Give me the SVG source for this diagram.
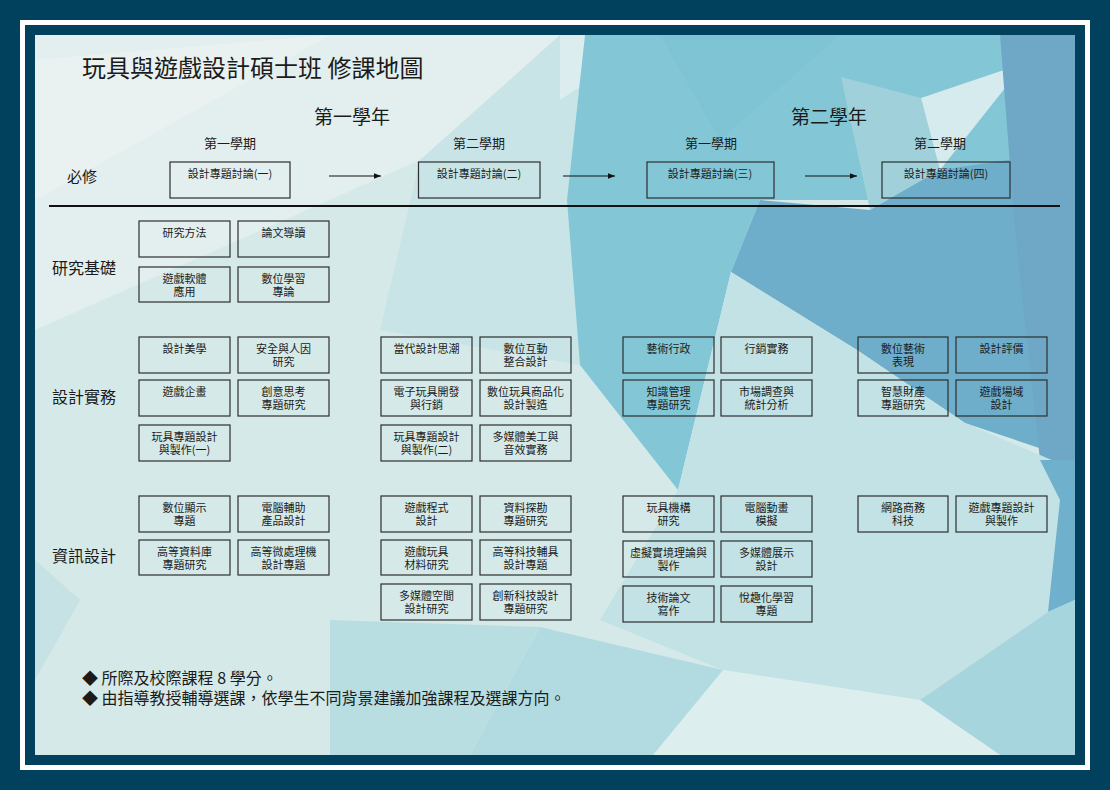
<svg xmlns="http://www.w3.org/2000/svg" width="1110" height="790" viewBox="0 0 1110 790">
<defs>
<style>
.t{font-family:"Noto Sans CJK TC","Noto Sans CJK SC",sans-serif;fill:#1b1b1b}
.bx{fill:none;stroke:#2e2e2e;stroke-width:1.2}
.c{font-size:11px;text-anchor:middle}
.sec{font-size:16px}
.sem{font-size:13px;text-anchor:middle}
.yr{font-size:19px;text-anchor:middle}
.ar{stroke:#111;stroke-width:1.2;fill:none}
</style>
<marker id="ah" viewBox="0 0 10 10" refX="10" refY="5" markerWidth="7" markerHeight="7" markerUnits="userSpaceOnUse" orient="auto">
<path d="M0,1 L10,5 L0,9 Z" fill="#111"/>
</marker>
<clipPath id="clip"><rect x="35" y="35" width="1040" height="720"/></clipPath>
</defs>
<rect x="0" y="0" width="1110" height="790" fill="#01415d"/>
<rect x="20" y="20" width="1070" height="750" fill="#ffffff"/>
<rect x="25" y="25" width="1060" height="740" fill="#01415d"/>
<g id="background" clip-path="url(#clip)">
<rect x="35" y="35" width="1040" height="720" fill="#d5e9e9"/>
<polygon points="35,35 560,35 420,160 35,330" fill="#e3efee"/>
<polygon points="35,60 330,35 35,200" fill="#e9f2f1"/>
<polygon points="420,160 560,35 585,35 567,200 580,365 380,330" fill="#c8e4e6"/>
<polygon points="560,35 660,35 560,100" fill="#dbedee"/>
<polygon points="585,35 1075,35 1075,200 760,200 731,272 678,490 580,365 567,200" fill="#83c7d6"/>
<polygon points="660,35 840,35 720,140" fill="#7ec4d4"/>
<polygon points="841,77 921,98 940,170 870,210" fill="#a0d1db"/>
<polygon points="921,98 1025,63 940,170" fill="#d5ebee"/>
<polygon points="1025,63 1075,50 1075,110" fill="#9ccbd9"/>
<polygon points="760,200 870,210 940,170 1075,150 1075,460 965,423 857,350 731,272" fill="#6eaecb"/>
<polygon points="1000,35 1075,35 1075,460 1040,460 1015,230" fill="#6fa8c7"/>
<polygon points="731,272 857,350 965,423 1075,470 1075,500 1048,612 920,700 723,670 600,620 678,490" fill="#c3e2e5"/>
<polygon points="1040,460 1075,460 1075,600 1048,612 1060,500" fill="#6fb1cc"/>
<polygon points="1048,612 1075,600 1075,755 1000,755 920,700" fill="#a6d5de"/>
<polygon points="723,670 920,700 1000,755 653,755" fill="#ddeeee"/>
<polygon points="540,627 723,670 653,755 470,755" fill="#b2dbe1"/>
<polygon points="330,620 540,627 470,755 330,755" fill="#b9dee2"/>
<polygon points="35,560 80,600 35,680" fill="#c6e2e4"/>
</g>
<g id="headings">
<text class="t" x="82" y="77" font-size="24">玩具與遊戲設計碩士班 修課地圖</text>
<text class="t yr" x="352" y="124">第一學年</text>
<text class="t yr" x="829" y="124">第二學年</text>
<text class="t sem" x="230" y="148">第一學期</text>
<text class="t sem" x="479" y="148">第二學期</text>
<text class="t sem" x="711" y="148">第一學期</text>
<text class="t sem" x="940" y="148">第二學期</text>
<text class="t" x="67" y="182" font-size="15">必修</text>
<text class="t sec" x="52" y="274">研究基礎</text>
<text class="t sec" x="52" y="403">設計實務</text>
<text class="t sec" x="52" y="562">資訊設計</text>
</g>
<g id="req1"><rect class="bx" x="170" y="162" width="120" height="36"/><text class="t c" x="230" y="178">設計專題討論(一)</text></g>
<g id="req2"><rect class="bx" x="418.5" y="162" width="121.5" height="36"/><text class="t c" x="479" y="178">設計專題討論(二)</text></g>
<g id="req3"><rect class="bx" x="647" y="162" width="127" height="36"/><text class="t c" x="710" y="178">設計專題討論(三)</text></g>
<g id="req4"><rect class="bx" x="882" y="162" width="128" height="36"/><text class="t c" x="946" y="178">設計專題討論(四)</text></g>
<g id="connectors">
<line class="ar" x1="329" y1="176" x2="381" y2="176" marker-end="url(#ah)"/>
<line class="ar" x1="563" y1="176" x2="615" y2="176" marker-end="url(#ah)"/>
<line class="ar" x1="805" y1="176" x2="857" y2="176" marker-end="url(#ah)"/>
<line x1="49" y1="206" x2="1060" y2="206" stroke="#111" stroke-width="2"/>
</g>
<g id="r-a1"><rect class="bx" x="139" y="221" width="91" height="36"/><text class="t c" x="184.5" y="237">研究方法</text></g>
<g id="r-b1"><rect class="bx" x="238" y="221" width="91" height="36"/><text class="t c" x="283.5" y="237">論文導讀</text></g>
<g id="r-a2"><rect class="bx" x="139" y="267" width="91" height="35"/><text class="t c" x="184.5" y="283">遊戲軟體<tspan x="184.5" dy="13">應用</tspan></text></g>
<g id="r-b2"><rect class="bx" x="238" y="267" width="91" height="35"/><text class="t c" x="283.5" y="283">數位學習<tspan x="283.5" dy="13">專論</tspan></text></g>
<g id="d-a1"><rect class="bx" x="139" y="337" width="91" height="36"/><text class="t c" x="184.5" y="353">設計美學</text></g>
<g id="d-b1"><rect class="bx" x="238" y="337" width="91" height="36"/><text class="t c" x="283.5" y="353">安全與人因<tspan x="283.5" dy="13">研究</tspan></text></g>
<g id="d-a2"><rect class="bx" x="139" y="380" width="91" height="36"/><text class="t c" x="184.5" y="396">遊戲企畫</text></g>
<g id="d-b2"><rect class="bx" x="238" y="380" width="91" height="36"/><text class="t c" x="283.5" y="396">創意思考<tspan x="283.5" dy="13">專題研究</tspan></text></g>
<g id="d-a3"><rect class="bx" x="139" y="425" width="91" height="36"/><text class="t c" x="184.5" y="441">玩具專題設計<tspan x="184.5" dy="13">與製作(一)</tspan></text></g>
<g id="d-c1"><rect class="bx" x="381" y="337" width="91" height="36"/><text class="t c" x="426.5" y="353">當代設計思潮</text></g>
<g id="d-d1"><rect class="bx" x="480" y="337" width="91" height="36"/><text class="t c" x="525.5" y="353">數位互動<tspan x="525.5" dy="13">整合設計</tspan></text></g>
<g id="d-c2"><rect class="bx" x="381" y="380" width="91" height="36"/><text class="t c" x="426.5" y="396">電子玩具開發<tspan x="426.5" dy="13">與行銷</tspan></text></g>
<g id="d-d2"><rect class="bx" x="480" y="380" width="91" height="36"/><text class="t c" x="525.5" y="396">數位玩具商品化<tspan x="525.5" dy="13">設計製造</tspan></text></g>
<g id="d-c3"><rect class="bx" x="381" y="425" width="91" height="36"/><text class="t c" x="426.5" y="441">玩具專題設計<tspan x="426.5" dy="13">與製作(二)</tspan></text></g>
<g id="d-d3"><rect class="bx" x="480" y="425" width="91" height="36"/><text class="t c" x="525.5" y="441">多媒體美工與<tspan x="525.5" dy="13">音效實務</tspan></text></g>
<g id="d-e1"><rect class="bx" x="623" y="337" width="91" height="36"/><text class="t c" x="668.5" y="353">藝術行政</text></g>
<g id="d-f1"><rect class="bx" x="721" y="337" width="91" height="36"/><text class="t c" x="766.5" y="353">行銷實務</text></g>
<g id="d-e2"><rect class="bx" x="623" y="380" width="91" height="36"/><text class="t c" x="668.5" y="396">知識管理<tspan x="668.5" dy="13">專題研究</tspan></text></g>
<g id="d-f2"><rect class="bx" x="721" y="380" width="91" height="36"/><text class="t c" x="766.5" y="396">市場調查與<tspan x="766.5" dy="13">統計分析</tspan></text></g>
<g id="d-g1"><rect class="bx" x="858" y="337" width="90" height="36"/><text class="t c" x="903" y="353">數位藝術<tspan x="903" dy="13">表現</tspan></text></g>
<g id="d-h1"><rect class="bx" x="956" y="337" width="91" height="36"/><text class="t c" x="1001.5" y="353">設計評價</text></g>
<g id="d-g2"><rect class="bx" x="858" y="380" width="90" height="36"/><text class="t c" x="903" y="396">智慧財產<tspan x="903" dy="13">專題研究</tspan></text></g>
<g id="d-h2"><rect class="bx" x="956" y="380" width="91" height="36"/><text class="t c" x="1001.5" y="396">遊戲場域<tspan x="1001.5" dy="13">設計</tspan></text></g>
<g id="i-a1"><rect class="bx" x="139" y="496" width="91" height="36"/><text class="t c" x="184.5" y="512">數位顯示<tspan x="184.5" dy="13">專題</tspan></text></g>
<g id="i-b1"><rect class="bx" x="238" y="496" width="91" height="36"/><text class="t c" x="283.5" y="512">電腦輔助<tspan x="283.5" dy="13">產品設計</tspan></text></g>
<g id="i-a2"><rect class="bx" x="139" y="540" width="91" height="35"/><text class="t c" x="184.5" y="556">高等資料庫<tspan x="184.5" dy="13">專題研究</tspan></text></g>
<g id="i-b2"><rect class="bx" x="238" y="540" width="91" height="35"/><text class="t c" x="283.5" y="556">高等微處理機<tspan x="283.5" dy="13">設計專題</tspan></text></g>
<g id="i-c1"><rect class="bx" x="381" y="496" width="91" height="36"/><text class="t c" x="426.5" y="512">遊戲程式<tspan x="426.5" dy="13">設計</tspan></text></g>
<g id="i-d1"><rect class="bx" x="480" y="496" width="91" height="36"/><text class="t c" x="525.5" y="512">資料探勘<tspan x="525.5" dy="13">專題研究</tspan></text></g>
<g id="i-c2"><rect class="bx" x="381" y="540" width="91" height="35"/><text class="t c" x="426.5" y="556">遊戲玩具<tspan x="426.5" dy="13">材料研究</tspan></text></g>
<g id="i-d2"><rect class="bx" x="480" y="540" width="91" height="35"/><text class="t c" x="525.5" y="556">高等科技輔具<tspan x="525.5" dy="13">設計專題</tspan></text></g>
<g id="i-c3"><rect class="bx" x="381" y="584" width="91" height="36"/><text class="t c" x="426.5" y="600">多媒體空間<tspan x="426.5" dy="13">設計研究</tspan></text></g>
<g id="i-d3"><rect class="bx" x="480" y="584" width="91" height="36"/><text class="t c" x="525.5" y="600">創新科技設計<tspan x="525.5" dy="13">專題研究</tspan></text></g>
<g id="i-e1"><rect class="bx" x="623" y="496" width="91" height="36"/><text class="t c" x="668.5" y="512">玩具機構<tspan x="668.5" dy="13">研究</tspan></text></g>
<g id="i-f1"><rect class="bx" x="721" y="496" width="91" height="36"/><text class="t c" x="766.5" y="512">電腦動畫<tspan x="766.5" dy="13">模擬</tspan></text></g>
<g id="i-e2"><rect class="bx" x="623" y="541" width="91" height="36"/><text class="t c" x="668.5" y="557">虛擬實境理論與<tspan x="668.5" dy="13">製作</tspan></text></g>
<g id="i-f2"><rect class="bx" x="721" y="541" width="91" height="36"/><text class="t c" x="766.5" y="557">多媒體展示<tspan x="766.5" dy="13">設計</tspan></text></g>
<g id="i-e3"><rect class="bx" x="623" y="586" width="91" height="36"/><text class="t c" x="668.5" y="602">技術論文<tspan x="668.5" dy="13">寫作</tspan></text></g>
<g id="i-f3"><rect class="bx" x="721" y="586" width="91" height="36"/><text class="t c" x="766.5" y="602">悅趣化學習<tspan x="766.5" dy="13">專題</tspan></text></g>
<g id="i-g1"><rect class="bx" x="858" y="496" width="90" height="36"/><text class="t c" x="903" y="512">網路商務<tspan x="903" dy="13">科技</tspan></text></g>
<g id="i-h1"><rect class="bx" x="956" y="496" width="91" height="36"/><text class="t c" x="1001.5" y="512">遊戲專題設計<tspan x="1001.5" dy="13">與製作</tspan></text></g>
<g id="notes">
<text class="t" x="82" y="684" font-size="16">◆ 所際及校際課程 8 學分。<tspan x="82" dy="20">◆ 由指導教授輔導選課，依學生不同背景建議加強課程及選課方向。</tspan></text>
</g>
</svg>
